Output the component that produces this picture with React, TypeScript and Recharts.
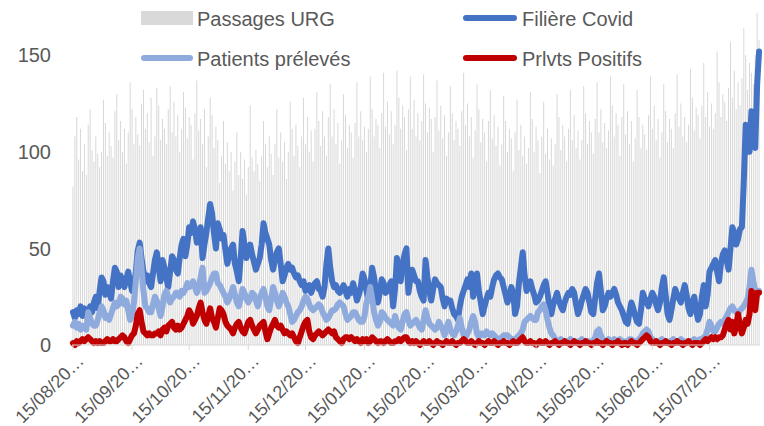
import React from 'react';
import { ComposedChart, Bar, Line, XAxis, YAxis } from 'recharts';

// Daily series starting 15/08/2020
const passages = [
  82, 108, 118, 96, 112, 90, 104,
  88, 114, 122, 101, 95, 108, 99,
  92, 100, 127, 115, 98, 110, 103,
  97, 121, 130, 106, 116, 100, 112,
  94, 110, 136, 122, 104, 118, 109,
  103, 125, 132, 112, 120, 105, 128,
  98, 108, 133, 124, 106, 117, 112,
  104, 122, 134, 110, 126, 108, 119,
  100, 112, 131, 123, 107, 118, 114,
  96, 120, 137, 111, 117, 104, 122,
  92, 108, 128, 119, 102, 113, 106,
  84, 98, 116, 94, 105, 90, 100,
  80, 95, 110, 88, 100, 86, 96,
  78, 92, 124, 97, 90, 101, 94,
  85, 98, 116, 104, 92, 108, 99,
  88, 104, 122, 97, 110, 95, 105,
  86, 100, 126, 112, 98, 114, 103,
  92, 108, 128, 104, 118, 100, 111,
  95, 112, 131, 116, 103, 121, 108,
  98, 118, 135, 108, 122, 104, 115,
  94, 106, 130, 119, 102, 114, 110,
  97, 115, 136, 108, 121, 106, 113,
  100, 112, 139, 122, 108, 117, 114,
  102, 120, 141, 113, 126, 109, 121,
  104, 114, 142, 128, 112, 124, 118,
  101, 122, 139, 112, 127, 108, 120,
  106, 116, 140, 125, 110, 123, 117,
  100, 118, 137, 111, 124, 107, 119,
  98, 110, 134, 120, 106, 116, 112,
  103, 121, 141, 114, 125, 108, 118,
  97, 111, 135, 122, 105, 117, 110,
  95, 116, 132, 107, 119, 103, 113,
  93, 104, 129, 116, 100, 112, 107,
  90, 110, 127, 101, 114, 98, 108,
  94, 102, 131, 117, 100, 113, 106,
  89, 108, 126, 99, 112, 96, 107,
  93, 104, 130, 118, 101, 114, 108,
  95, 112, 132, 106, 119, 102, 111,
  96, 106, 134, 120, 104, 116, 110,
  99, 117, 136, 110, 122, 105, 115,
  102, 111, 139, 124, 108, 120, 114,
  98, 118, 135, 109, 121, 104, 116,
  95, 107, 132, 118, 102, 114, 109,
  101, 119, 139, 112, 124, 106, 117,
  97, 110, 135, 121, 105, 117, 112,
  102, 120, 140, 113, 125, 108, 118,
  105, 114, 143, 128, 111, 123, 119,
  107, 124, 146, 118, 131, 113, 125,
  112, 120, 152, 136, 118, 130, 126,
  116, 133, 157, 128, 142, 122, 136,
  124, 138, 164, 150, 132, 146, 141,
  135, 150, 172, 158,
];

const filiere = [
  17, 14, 18, 16, 20, 15, 19, 17, 13, 20,
  17, 22, 25, 19, 28, 35, 33, 26, 30, 29,
  24, 33, 40, 38, 30, 36, 33, 30, 34, 38,
  33, 28, 30, 38, 49, 53, 45, 38, 33, 36,
  32, 30, 37, 44, 48, 40, 33, 44, 40, 35,
  30, 38, 46, 44, 39, 37, 45, 52, 55, 46,
  52, 61, 58, 64, 60, 53, 56, 61, 45, 52,
  58, 66, 73, 68, 58, 50, 63, 60, 55, 57,
  49, 42, 46, 50, 52, 42, 38, 33, 45, 59,
  52, 45, 48, 52, 47, 43, 39, 42, 45, 52,
  63, 58, 55, 52, 44, 39, 44, 48, 50, 42,
  33, 36, 40, 42, 39, 40, 37, 35, 36, 33,
  31, 33, 28, 30, 31, 27, 30, 32, 33, 29,
  28, 25, 30, 42, 50, 40, 33, 30, 31, 28,
  27, 29, 31, 28, 25, 29, 27, 32, 28, 23,
  26, 30, 37, 34, 28, 23, 30, 40, 35, 28,
  22, 27, 34, 32, 27, 28, 31, 33, 20, 29,
  45, 38, 33, 42, 47, 50, 27, 34, 39, 36,
  33, 33, 28, 25, 23, 44, 35, 28, 23, 29,
  34, 32, 31, 30, 24, 20, 24, 23, 23, 19,
  16, 15, 13, 20, 25, 28, 31, 34, 30, 37,
  25, 31, 37, 28, 22, 16, 20, 24, 27, 25,
  30, 34, 36, 37, 35, 34, 30, 26, 22, 25,
  30, 27, 16, 20, 32, 40, 48, 36, 28, 30,
  33, 29, 26, 22, 23, 25, 28, 31, 33, 27,
  20, 16, 21, 24, 27, 23, 20, 18, 22, 25,
  27, 26, 29, 27, 21, 16, 19, 23, 26, 29,
  27, 22, 17, 16, 24, 32, 37, 28, 18, 20,
  24, 27, 25, 27, 29, 26, 22, 20, 18, 15,
  12, 11, 17, 22, 19, 15, 12, 11, 18, 27,
  24, 22, 20, 24, 27, 25, 21, 18, 22, 30,
  35, 26, 16, 13, 18, 24, 29, 26, 24, 22,
  27, 31, 26, 19, 16, 22, 25, 18, 13, 16,
  25, 31, 20, 26, 38, 40, 42, 44, 38, 33,
  42, 47, 49, 44, 39, 50, 61, 58, 52, 55,
  60, 61, 85, 114, 108, 100, 121, 110, 102, 135, 152,
];

const preleves = [
  10, 12, 9, 11, 8, 10, 9, 8, 17, 14,
  11, 10, 10, 13, 17, 20, 18, 14, 15, 13,
  16, 19, 22, 20, 21, 25, 24, 21, 23, 18,
  13, 15, 22, 33, 45, 50, 40, 28, 20, 19,
  17, 17, 21, 25, 23, 19, 15, 20, 26, 28,
  25, 22, 24, 25, 27, 27, 25, 28, 27, 29,
  32, 30, 31, 33, 30, 27, 30, 35, 40, 27,
  28, 30, 32, 35, 37, 37, 32, 31, 29, 27,
  25, 22, 24, 27, 30, 26, 22, 20, 24, 29,
  27, 24, 22, 24, 27, 26, 23, 20, 24, 27,
  29, 25, 20, 18, 24, 30, 27, 23, 20, 23,
  27, 25, 22, 20, 16, 12, 13, 15, 17, 18,
  20, 23, 25, 24, 21, 19, 18, 19, 20, 21,
  20, 17, 15, 13, 14, 16, 18, 18, 19, 21,
  22, 21, 20, 16, 13, 14, 15, 17, 17, 15,
  13, 12, 12, 15, 22, 25, 30, 24, 17, 13,
  10, 12, 17, 16, 14, 13, 12, 11, 10, 15,
  12, 9, 8, 12, 16, 17, 13, 10, 11, 12,
  13, 11, 9, 8, 13, 18, 14, 11, 10, 9,
  8, 9, 12, 10, 8, 5, 9, 12, 8, 6,
  5, 7, 10, 14, 9, 5, 4, 6, 8, 12,
  15, 12, 6, 4, 6, 6, 5, 7, 6, 5,
  6, 5, 4, 3, 3, 4, 5, 5, 5, 4,
  3, 3, 3, 4, 5, 6, 8, 12, 13, 14,
  15, 14, 13, 13, 17, 18, 20, 21, 18, 13,
  9, 6, 5, 3, 2, 2, 3, 2, 2, 1,
  2, 3, 2, 2, 1, 2, 2, 3, 2, 1,
  2, 2, 1, 2, 4, 7, 8, 5, 3, 2,
  2, 3, 2, 2, 3, 2, 2, 3, 2, 2,
  1, 2, 3, 3, 2, 2, 2, 3, 4, 6,
  7, 8, 7, 4, 3, 2, 2, 1, 2, 3,
  2, 2, 1, 2, 2, 3, 2, 2, 2, 3,
  2, 2, 1, 2, 2, 2, 3, 2, 2, 3,
  3, 4, 5, 8, 12, 10, 7, 7, 9, 11,
  12, 11, 13, 15, 17, 19, 20, 18, 17, 16,
  18, 19, 20, 22, 24, 30, 39, 33, 28, 27, 28,
];

const positifs = [
  1, 0, 2, 1, 2, 3, 2, 3, 4, 3,
  2, 1, 2, 1, 2, 1, 1, 2, 3, 2,
  2, 3, 2, 2, 3, 4, 5, 4, 2, 1,
  3, 5, 6, 10, 16, 18, 12, 7, 6, 5,
  6, 5, 5, 6, 6, 7, 5, 8, 9, 7,
  10, 11, 12, 9, 8, 10, 8, 9, 11, 13,
  15, 18, 16, 11, 13, 15, 19, 22, 17, 13,
  11, 15, 19, 14, 12, 9, 14, 19, 18, 16,
  12, 10, 9, 8, 6, 9, 11, 12, 9, 7,
  6, 9, 12, 13, 10, 8, 6, 8, 10, 11,
  12, 7, 3, 6, 9, 11, 13, 10, 9, 10,
  8, 6, 7, 6, 5, 6, 4, 2, 1, 4,
  7, 10, 12, 13, 7, 4, 3, 5, 6, 7,
  6, 5, 6, 7, 8, 7, 6, 7, 4, 3,
  2, 1, 3, 4, 4, 3, 4, 3, 2, 3,
  2, 1, 3, 2, 3, 1, 2, 4, 3, 2,
  1, 2, 2, 1, 2, 3, 2, 1, 1, 2,
  2, 3, 2, 3, 4, 4, 2, 1, 2, 1,
  2, 1, 0, 1, 2, 1, 1, 2, 1, 0,
  1, 2, 1, 1, 0, 1, 2, 1, 1, 2,
  1, 0, 1, 1, 2, 3, 2, 1, 1, 2,
  1, 0, 1, 2, 1, 1, 0, 1, 2, 1,
  1, 2, 1, 0, 1, 1, 2, 1, 1, 0,
  1, 2, 1, 1, 2, 3, 4, 2, 1, 1,
  2, 1, 1, 0, 1, 2, 1, 1, 2, 1,
  0, 1, 1, 2, 1, 0, 1, 1, 2, 1,
  1, 0, 1, 2, 1, 1, 0, 1, 1, 2,
  1, 1, 0, 1, 1, 2, 1, 1, 0, 1,
  2, 1, 1, 0, 1, 1, 2, 1, 0, 1,
  1, 0, 1, 2, 1, 1, 0, 1, 2, 3,
  4, 5, 4, 2, 1, 1, 2, 1, 0, 1,
  1, 2, 1, 1, 0, 1, 1, 2, 1, 1,
  0, 1, 1, 2, 1, 0, 1, 1, 1, 0,
  1, 2, 3, 2, 3, 4, 3, 4, 3, 4,
  4, 5, 8, 11, 13, 8, 12, 6, 10, 16,
  10, 6, 9, 13, 11, 16, 28, 26, 18, 27, 27,
];

const yTicks = [0, 50, 100, 150];
const START_UTC = Date.UTC(2020, 7, 15);

const pad = (n: number) => (n < 10 ? '0' + n : '' + n);
const dates = passages.map((_, i) => {
  const d = new Date(START_UTC + i * 86400000);
  return `${pad(d.getUTCDate())}/${pad(d.getUTCMonth() + 1)}/${d.getUTCFullYear()}`;
});

const data = dates.map((date, i) => ({
  date,
  passages: passages[i],
  filiere: filiere[i],
  preleves: preleves[i],
  positifs: positifs[i],
}));

const FONT = '"Liberation Sans", Arial, sans-serif';
const TEXT = '#595959';

const XTick = (props: any) => {
  const { x, y, payload } = props;
  const v: string = payload && payload.value ? String(payload.value) : '';
  if (!v.startsWith('15/')) return <g />;
  const ax = x + 12;
  const ay = y + 12;
  return (
    <g>
      <line x1={x} y1={y - 5} x2={x} y2={y} stroke="#d9d9d9" strokeWidth={1} />
      <text
        x={ax}
        y={ay}
        textAnchor="end"
        transform={`rotate(-45 ${ax} ${ay})`}
        fontSize={18}
        fontFamily={FONT}
        fill={TEXT}
      >
        {v.slice(0, 8) + '…'}
      </text>
    </g>
  );
};

const Legend2 = () => (
  <svg
    width={764}
    height={80}
    style={{ position: 'absolute', left: 0, top: 0, pointerEvents: 'none' }}
  >
    <rect x={141} y={11} width={52} height={14} fill="#d9d9d9" />
    <text x={197} y={26} fontSize={20} fontFamily={FONT} fill={TEXT}>Passages URG</text>
    <line x1={466} y1={18} x2={514} y2={18} stroke="#4472C4" strokeWidth={6} strokeLinecap="round" />
    <text x={522} y={26} fontSize={20} fontFamily={FONT} fill={TEXT}>Filière Covid</text>
    <line x1={144} y1={58} x2={190} y2={58} stroke="#8FAADC" strokeWidth={6} strokeLinecap="round" />
    <text x={197} y={66} fontSize={20} fontFamily={FONT} fill={TEXT}>Patients prélevés</text>
    <line x1={466} y1={58} x2={514} y2={58} stroke="#C00000" strokeWidth={6} strokeLinecap="round" />
    <text x={522} y={66} fontSize={20} fontFamily={FONT} fill={TEXT}>Prlvts Positifs</text>
  </svg>
);

export default function App() {
  return (
    <div style={{ position: 'absolute', left: 0, top: 0, width: 764, height: 426, background: '#fff', fontFamily: FONT }}>
      <ComposedChart
        width={764}
        height={426}
        data={data}
        margin={{ top: 7, right: 4, bottom: 0, left: 0 }}
        barCategoryGap="25%"
      >
        <XAxis
          dataKey="date"
          interval={0}
          tick={<XTick />}
          tickLine={false}
          tickSize={5}
          tickMargin={0}
          height={81}
          axisLine={{ stroke: '#d9d9d9', strokeWidth: 1 }}
        />
        <YAxis
          domain={[0, 175]}
          ticks={yTicks}
          width={72}
          axisLine={false}
          tickLine={false}
          tickSize={6}
          tickMargin={15}
          tick={{ fontSize: 20, fill: TEXT, fontFamily: FONT }}
        />
        <Bar dataKey="passages" fill="#d6d6d6" isAnimationActive={false} />
        <Line type="linear" dataKey="filiere" stroke="#4472C4" strokeWidth={6} dot={false} strokeLinejoin="round" strokeLinecap="round" isAnimationActive={false} />
        <Line type="linear" dataKey="preleves" stroke="#8FAADC" strokeWidth={6} dot={false} strokeLinejoin="round" strokeLinecap="round" isAnimationActive={false} />
        <Line type="linear" dataKey="positifs" stroke="#C00000" strokeWidth={6} dot={false} strokeLinejoin="round" strokeLinecap="round" isAnimationActive={false} />
      </ComposedChart>
      <Legend2 />
    </div>
  );
}
